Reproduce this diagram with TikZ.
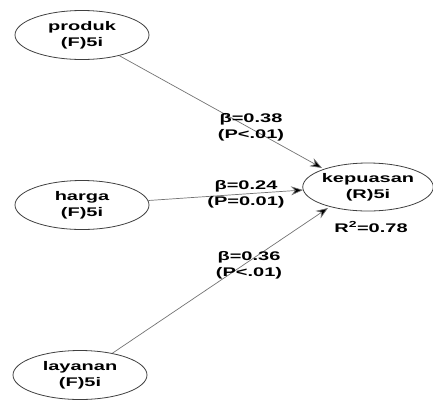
\documentclass[tikz,border=0pt]{standalone}
\usepackage{fontspec}
\setmainfont[FakeStretch=1.6]{Liberation Sans}
\usetikzlibrary{shapes.geometric,arrows.meta}
\begin{document}
\begin{tikzpicture}[x=1pt,y=-1pt,
  txt/.style={font=\bfseries\fontsize{12.5}{16}\selectfont,align=center},
  lat/.style={txt,draw=black!75,line width=0.8pt,ellipse,minimum width=134pt,minimum height=49pt,inner sep=0pt},
  path/.style={draw=black!55,line width=0.7pt,-{Stealth[length=12pt,width=9pt,fill=black]}},
  lbl/.style={txt,inner sep=0pt}]
\useasboundingbox (0,0) rectangle (433,400);
\node[lat] (produk) at (82,35) {produk\\(F)5i};
\node[lat] (harga) at (82,205) {harga\\(F)5i};
\node[lat] (layanan) at (80,375) {layanan\\(F)5i};
\node[lat,minimum width=130pt,minimum height=48pt] (kep) at (368,187) {kepuasan\\(R)5i};
\coordinate (t1) at (322,168);
\coordinate (t2) at (303,190);
\coordinate (t3) at (328,208);
\draw[path] (produk) -- (t1);
\draw[path] (harga) -- (t2);
\draw[path] (layanan) -- (t3);
\node[lbl] (l1) at (251,127) {β=0.38\\(P<.01)};
\node[lbl] (l2) at (246,194) {β=0.24\\(P=0.01)};
\node[lbl] (l3) at (249,265) {β=0.36\\(P<.01)};
\node[lbl] (r2) at (371,227) {R\textsuperscript{2}=0.78};
\end{tikzpicture}
\end{document}
